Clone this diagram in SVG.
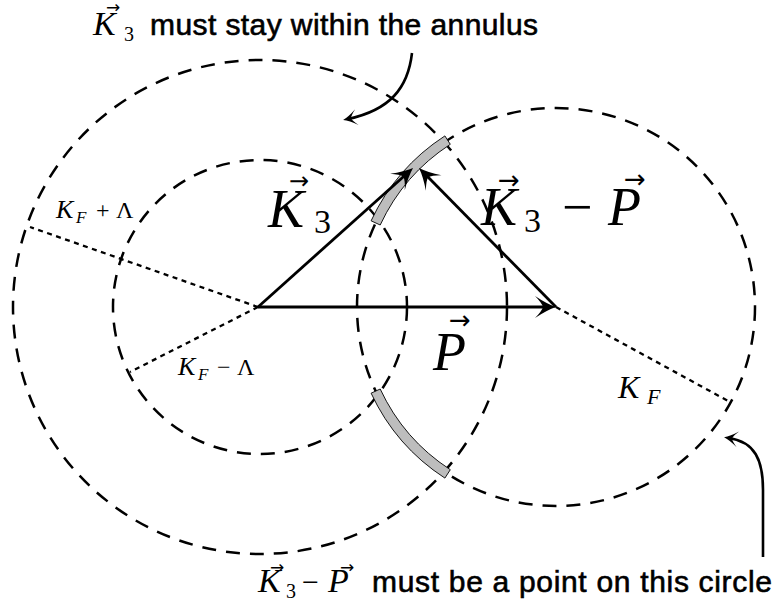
<svg xmlns="http://www.w3.org/2000/svg" width="776" height="611" viewBox="0 0 776 611">
<style>
.dash{fill:none;stroke:#000;stroke-width:2.5;stroke-dasharray:14 10}
.dot{fill:none;stroke:#000;stroke-width:2.3;stroke-dasharray:5 4.5}
.vec{fill:none;stroke:#000;stroke-width:2.8}
.cur{fill:none;stroke:#000;stroke-width:2.6}
.band{fill:#bdbdbd;stroke:#000;stroke-width:0.9}
.sans{font-family:"Liberation Sans",Arial,sans-serif;fill:#000;stroke:#000;stroke-width:0.6}
.mi{font-family:"Liberation Serif","DejaVu Serif",serif;font-style:italic;fill:#000}
.mr{font-family:"Liberation Serif","DejaVu Serif",serif;font-style:normal}
.ar{font-family:"DejaVu Sans",sans-serif;font-style:normal}
</style>
<defs>
<marker id="ah" viewBox="-23 -12 25 24" refX="-10" refY="0" markerWidth="25" markerHeight="24" markerUnits="userSpaceOnUse" orient="auto">
<path d="M0,0 Q-9,-3 -21,-11 Q-14,-4 -13,0 Q-14,4 -21,11 Q-9,3 0,0 Z" fill="#000"/>
</marker>
<marker id="ahs" viewBox="-16 -9 18 18" refX="-5" refY="0" markerWidth="18" markerHeight="18" markerUnits="userSpaceOnUse" orient="auto">
<path d="M0,0 Q-6,-2 -14,-8 Q-9,-3 -8,0 Q-9,3 -14,8 Q-6,2 0,0 Z" fill="#000"/>
</marker>
</defs>
<rect width="776" height="611" fill="#fff"/>

<g id="outer-circle"><circle class="dash" cx="260" cy="307" r="247"/></g>
<g id="inner-circle"><circle class="dash" cx="260" cy="307" r="147"/></g>
<g id="kf-circle"><circle class="dash" cx="556" cy="307" r="199"/></g>

<g id="bands">
<path class="band" d="M371.1,220.8 A204,204 0 0,1 444.9,135.9 L450.3,144.3 A194,194 0 0,0 380.2,225 Z"/>
<path class="band" d="M371.1,393.2 A204,204 0 0,0 444.9,478.1 L450.3,469.7 A194,194 0 0,1 380.2,389 Z"/>
</g>

<g id="connectors">
<line class="dot" x1="258" y1="307" x2="30" y2="227"/>
<line class="dot" x1="258" y1="307" x2="130" y2="372"/>
<line class="dot" x1="556" y1="307" x2="730" y2="402"/>
<line class="vec" x1="258" y1="307" x2="546" y2="307" marker-end="url(#ah)"/>
<line class="vec" x1="258" y1="307" x2="405.6" y2="174.7" marker-end="url(#ah)"/>
<line class="vec" x1="556" y1="307" x2="426" y2="175.1" marker-end="url(#ah)"/>
<path class="cur" d="M412,53 C408,88 390,110 348,119" marker-end="url(#ahs)"/>
<path class="cur" d="M763,557 L763,490 C763,460 755,442 729,438" marker-end="url(#ahs)"/>
</g>

<g id="title">
<text class="mi" font-size="34"><tspan x="93" y="35">K</tspan><tspan class="ar" x="106" y="13" font-size="17">→</tspan><tspan class="mr" x="124" y="41" font-size="20">3</tspan></text>
<text class="sans" x="150" y="35" font-size="30" textLength="388" lengthAdjust="spacing">must stay within the annulus</text>
</g>

<g id="bottom-note">
<text class="mi" font-size="34"><tspan x="258" y="592">K</tspan><tspan class="ar" x="270" y="573" font-size="17">→</tspan><tspan class="mr" x="286" y="598" font-size="20">3</tspan><tspan class="mr" x="302" y="592" font-size="30">−</tspan><tspan x="328" y="592">P</tspan><tspan class="ar" x="340" y="573" font-size="17">→</tspan></text>
<text class="sans" x="372" y="592" font-size="30" textLength="400" lengthAdjust="spacing">must be a point on this circle</text>
</g>

<g id="label-k3">
<text class="mi" font-size="54"><tspan x="268" y="227">K</tspan><tspan class="ar" x="289" y="189" font-size="24">→</tspan><tspan class="mr" x="314" y="233" font-size="34">3</tspan></text>
</g>

<g id="label-k3-p">
<text class="mi" font-size="54"><tspan x="481" y="225">K</tspan><tspan class="ar" x="498" y="189" font-size="26">→</tspan><tspan class="mr" x="524" y="232" font-size="34">3</tspan><tspan class="mr" x="562" y="225">−</tspan><tspan x="608" y="225">P</tspan><tspan class="ar" x="624" y="188" font-size="26">→</tspan></text>
</g>

<g id="label-p">
<text class="mi" font-size="54"><tspan x="433" y="370">P</tspan><tspan class="ar" x="449" y="329" font-size="26">→</tspan></text>
</g>

<g id="label-kf-plus">
<text class="mi" font-size="26"><tspan x="56" y="218">K</tspan><tspan x="76" y="223" font-size="17">F</tspan><tspan class="mr" x="96" y="218" font-size="24">+</tspan><tspan class="mr" x="116" y="218" font-size="24">Λ</tspan></text>
</g>

<g id="label-kf-minus">
<text class="mi" font-size="26"><tspan x="178" y="375">K</tspan><tspan x="198" y="380" font-size="17">F</tspan><tspan class="mr" x="217" y="375" font-size="24">−</tspan><tspan class="mr" x="237" y="375" font-size="24">Λ</tspan></text>
</g>

<g id="label-kf">
<text class="mi" font-size="32"><tspan x="618" y="398">K</tspan><tspan x="647" y="404" font-size="22">F</tspan></text>
</g>
</svg>
